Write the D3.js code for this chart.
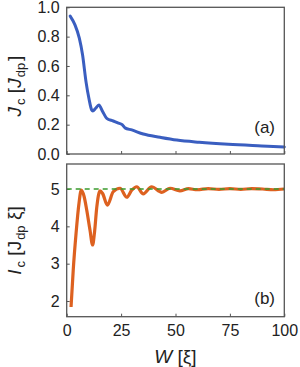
<!DOCTYPE html>
<html>
<head>
<meta charset="utf-8">
<script src="https://cdn.jsdelivr.net/npm/d3@7"></script>
<style>
	body { margin: 0; background: #fff; }
	svg { font-family: 'Liberation Sans', Arial, sans-serif; }
</style>
</head>
<body>
<svg width="300" height="367"></svg>
<script>
// panel (a): critical current density vs width
const wA = [1.6, 3.8, 5.8, 7.3, 8.9, 10.2, 11.5, 12.0, 13.2, 14.8, 16.5, 18.4, 21.4, 23.5, 25.5, 26.8, 29.9, 35.2, 42.9, 50.6, 60.9, 74.3, 89.6, 100];
const jA = [0.94, 0.88, 0.79, 0.675, 0.49, 0.38, 0.30, 0.293, 0.31, 0.334, 0.29, 0.243, 0.225, 0.212, 0.20, 0.178, 0.164, 0.136, 0.114, 0.095, 0.08, 0.066, 0.055, 0.048];

// panel (b): critical current vs width
const wB = [2.0, 3.0, 4.3, 5.65, 6.7, 8.0, 9.2, 10.7, 11.9, 12.8, 13.8, 15.3, 16.5, 18.7, 21.4, 24.5, 27.6, 29.9, 32.2, 35.2, 39.0, 43.7, 47.5, 52, 56, 60, 65, 70, 75, 80, 85, 90, 95, 100];
const iB = [1.84, 2.83, 3.81, 4.62, 4.97, 4.8, 4.44, 3.9, 3.5, 3.85, 4.5, 4.95, 4.88, 4.57, 4.93, 5.02, 4.78, 4.97, 5.06, 4.87, 5.06, 4.91, 5.02, 4.95, 5.01, 4.98, 5.01, 4.99, 5.01, 4.99, 5.01, 5.0, 4.98, 5.0];
const iRef = 5;

const xTicks = [0, 25, 50, 75, 100];
const yTicksA = [0, 0.2, 0.4, 0.6, 0.8, 1.0];
const yTicksB = [2, 3, 4, 5];

const svg = d3.select('svg');
const left = 66.7, right = 284.3;
const x = d3.scaleLinear().domain([0, 100]).range([left, right]);
const yA = d3.scaleLinear().domain([0, 1]).range([154, 7.3]);
const yB = d3.scaleLinear().domain([1.58, 5.67]).range([316.7, 164]);

const axisColor = '#555';
const textColor = '#222';

function frame(y) {
	const [y0, y1] = y.range();
	svg.append('rect')
		.attr('x', left).attr('y', y1)
		.attr('width', right - left).attr('height', y0 - y1)
		.attr('fill', 'none').attr('stroke', axisColor).attr('stroke-width', 1.3);
}

function axes(y, yTicks, fmt, showX) {
	const [y0] = y.range();
	const gx = svg.append('g')
		.attr('transform', `translate(0,${y0})`)
		.call(d3.axisBottom(x).tickValues(xTicks).tickSizeInner(-3).tickSizeOuter(0).tickPadding(8)
			.tickFormat(showX ? d3.format('d') : ''));
	const gy = svg.append('g')
		.attr('transform', `translate(${left},0)`)
		.call(d3.axisLeft(y).tickValues(yTicks).tickSizeInner(-3).tickSizeOuter(0).tickPadding(7).tickFormat(fmt));
	[gx, gy].forEach(g => {
		g.select('.domain').remove();
		g.selectAll('line').attr('stroke', axisColor);
		g.selectAll('text').attr('fill', textColor).attr('font-size', 16)
			.attr('font-family', "'Liberation Sans', Arial, sans-serif");
	});
}

const lineA = d3.line().x(d => x(d[0])).y(d => yA(d[1])).curve(d3.curveMonotoneX);
const lineB = d3.line().x(d => x(d[0])).y(d => yB(d[1])).curve(d3.curveMonotoneX);

// panel (a)
axes(yA, yTicksA, d3.format('.1f'), false);
svg.append('path')
	.datum(wA.map((w, i) => [w, jA[i]]))
	.attr('fill', 'none')
	.attr('stroke', '#3a5ec0')
	.attr('stroke-width', 3)
	.attr('stroke-linejoin', 'round')
	.attr('stroke-linecap', 'round')
	.attr('d', lineA);
frame(yA);

// panel (b)
axes(yB, yTicksB, d3.format('d'), true);
svg.append('path')
	.datum(wB.map((w, i) => [w, iB[i]]))
	.attr('fill', 'none')
	.attr('stroke', '#dd6120')
	.attr('stroke-width', 3.2)
	.attr('stroke-linejoin', 'round')
	.attr('d', lineB);
svg.append('line')
	.attr('x1', x(0)).attr('x2', x(100))
	.attr('y1', yB(iRef)).attr('y2', yB(iRef))
	.attr('stroke', '#3a9a2e').attr('stroke-width', 1.5)
	.attr('stroke-dasharray', '5,4');
frame(yB);

// panel letters
svg.append('text').attr('x', 275).attr('y', 133).attr('text-anchor', 'end')
	.attr('font-size', 17).attr('fill', textColor).text('(a)');
svg.append('text').attr('x', 275).attr('y', 304).attr('text-anchor', 'end')
	.attr('font-size', 17).attr('fill', textColor).text('(b)');

// axis titles
const ta = svg.append('text')
	.attr('transform', `translate(21,86) rotate(-90)`)
	.attr('text-anchor', 'middle').attr('font-size', 19).attr('fill', textColor);
ta.append('tspan').attr('font-style', 'italic').text('J');
ta.append('tspan').attr('font-size', 13).attr('dy', 4).attr('dx', 2).text('c');
ta.append('tspan').attr('dy', -4).text(' [');
ta.append('tspan').attr('font-style', 'italic').text('J');
ta.append('tspan').attr('font-size', 13).attr('dy', 4).attr('dx', 1).text('dp');
ta.append('tspan').attr('dy', -4).attr('dx', 2).text(']');

const tb = svg.append('text')
	.attr('transform', `translate(21,240.5) rotate(-90)`)
	.attr('text-anchor', 'middle').attr('font-size', 19).attr('fill', textColor);
tb.append('tspan').attr('font-style', 'italic').text('I');
tb.append('tspan').attr('font-size', 13).attr('dy', 4).attr('dx', 2).text('c');
tb.append('tspan').attr('dy', -4).text(' [J');
tb.append('tspan').attr('font-size', 13).attr('dy', 4).attr('dx', 1).text('dp');
tb.append('tspan').attr('dy', -4).text(' ξ]');

const tx = svg.append('text')
	.attr('x', x(50)).attr('y', 363)
	.attr('text-anchor', 'middle').attr('font-size', 19).attr('fill', textColor);
tx.append('tspan').attr('font-style', 'italic').text('W');
tx.append('tspan').text(' [ξ]');
</script>
</body>
</html>
